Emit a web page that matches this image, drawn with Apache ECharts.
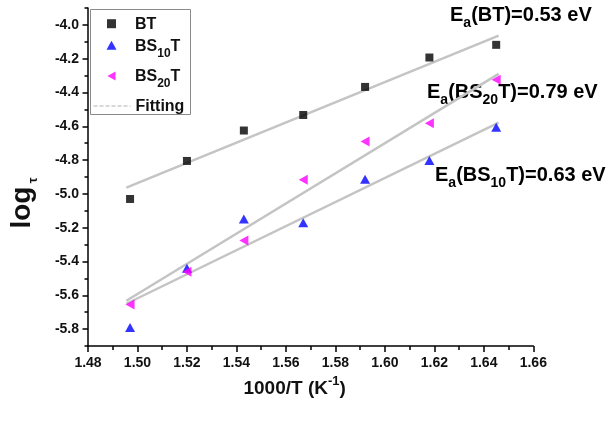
<!DOCTYPE html>
<html><head><meta charset="utf-8">
<script src="https://cdn.jsdelivr.net/npm/echarts@6/dist/echarts.min.js"></script>
<style>html,body{margin:0;padding:0;background:#fff}#c{width:616px;height:421px}</style>
</head><body><div id="c"></div>
<script>
const xVals = [1.497, 1.520, 1.543, 1.567, 1.592, 1.618, 1.645];
const btVals = [-5.03, -4.805, -4.625, -4.533, -4.367, -4.193, -4.118];
const bs10Vals = [-5.79, -5.44, -5.148, -5.17, -4.913, -4.803, -4.605];
const bs20Vals = [-5.655, -5.46, -5.276, -4.917, -4.69, -4.582, -4.325];
const fitX = [1.4955, 1.646];
const btFit = [-4.963, -4.063];
const bs10Fit = [-5.65, -4.578];
const bs20Fit = [-5.632, -4.29];
const yTickVals = [-5.8, -5.6, -5.4, -5.2, -5.0, -4.8, -4.6, -4.4, -4.2, -4.0];
const annotations = ['{m|E}{s|a}{m|(BT)=0.53 eV}', '{m|E}{s|a}{m|(BS}{s|20}{m|T)=0.79 eV}', '{m|E}{s|a}{m|(BS}{s|10}{m|T)=0.63 eV}'];
const legendLabels = {BT: '{m|BT}', 'BS10T': '{m|BS}{s|10}{m|T}', 'BS20T': '{m|BS}{s|20}{m|T}', Fitting: '{m|Fitting}'};

const FF = '"Liberation Sans", Arial, sans-serif';
const pairs = (xs, ys) => xs.map((x, i) => [x, ys[i]]);
const axisColor = '#000';
const TC = '#111';

const txt = (size, lh, pad) => ({fontFamily: FF, fontWeight: 'bold', fontSize: size, color: TC, lineHeight: lh, padding: pad, verticalAlign: 'top'});

const annRich = {
  m: txt(20, 23, [0, 0, 0, 0]),
  s: txt(14, 15, [11, 0, 0, 0])
};

const legendRich = {
  m: txt(16, 20, [3, 0, 0, 0]),
  s: txt(12, 14, [12, 0, 0, 0])
};

const legendBase = (left, top, extra) => Object.assign({
  left: left, top: top, orient: 'vertical', itemGap: 0, itemWidth: 37, itemHeight: 9,
  padding: 0, selectedMode: false,
  textStyle: {fontFamily: FF, fontSize: 16, fontWeight: 'bold', color: TC, rich: legendRich},
  formatter: n => legendLabels[n]
}, extra || {});

const chart = echarts.init(document.getElementById('c'), null, {renderer: 'canvas'});

chart.setOption({
  animation: false,
  backgroundColor: '#fff',
  grid: {left: 86.7, right: 82.7, top: 8, bottom: 75},
  xAxis: {
    type: 'value', min: 1.48, max: 1.66, interval: 0.02,
    axisLine: {lineStyle: {color: axisColor, width: 1.5}},
    axisTick: {length: 6, lineStyle: {color: axisColor, width: 1.5}},
    minorTick: {show: true, splitNumber: 2, length: 4, lineStyle: {color: axisColor, width: 1.5}},
    splitLine: {show: false},
    axisLabel: {fontFamily: FF, fontSize: 14, fontWeight: 'bold', color: TC, margin: 10, formatter: v => v.toFixed(2)},
    name: '{m|1000/T (K}{p|-1}{m|)}',
    nameLocation: 'middle', nameGap: 27,
    nameTextStyle: {
      padding: [0, 32, 0, 0],
      rich: {
        m: txt(19, 22, [4, 0, 0, 0]),
        p: txt(13, 15, [0, 0, 0, 0])
      }
    }
  },
  yAxis: [
    {
      type: 'value', min: -5.9, max: -3.9, interval: 0.1, position: 'left',
      axisLine: {show: true, lineStyle: {color: axisColor, width: 1.5}},
      axisTick: {show: true, length: 3.5, lineStyle: {color: axisColor, width: 1.5}},
      axisLabel: {show: false},
      splitLine: {show: false}
    },
    {
      type: 'value', min: -5.9, max: -3.9, position: 'left',
      axisLine: {show: false},
      axisTick: {show: true, customValues: yTickVals, length: 5.5, lineStyle: {color: axisColor, width: 1.5}},
      axisLabel: {customValues: yTickVals, fontFamily: FF, fontSize: 14, fontWeight: 'bold', color: TC, margin: 9, formatter: v => v.toFixed(1)},
      splitLine: {show: false},
      name: '{l|log} {t|τ}',
      nameLocation: 'middle', nameGap: 48, nameRotate: 90,
      nameTextStyle: {
        padding: [0, 52, 0, 0],
        rich: {
          l: txt(28, 32, [0, 0, 0, 0]),
          t: txt(13, 13, [19, 0, 0, 0])
        }
      }
    }
  ],
  legend: [
    legendBase(107, 13.7, {data: [{name: 'BT', icon: 'path://M0,0H8V8H0Z'}]}),
    legendBase(106.5, 35.3, {data: [{name: 'BS10T', icon: 'path://M5,0L10,9H0Z'}]}),
    legendBase(107.4, 66, {data: [{name: 'BS20T', icon: 'path://M0,5L9,0V10Z'}]}),
    legendBase(93, 96, {data: [{name: 'Fitting', itemStyle: {color: 'rgba(0,0,0,0)', opacity: 0}, lineStyle: {type: 'dashed', color: '#b0b0b0', width: 1}}]})
  ],
  series: [
    {name: 'Fitting', type: 'line', data: pairs(fitX, btFit), symbol: 'none', z: 1, silent: true, itemStyle: {color: '#c4c4c4'}, lineStyle: {color: '#c4c4c4', width: 2.5}},
    {name: 'Fitting', type: 'line', data: pairs(fitX, bs10Fit), symbol: 'none', z: 1, silent: true, itemStyle: {color: '#c4c4c4'}, lineStyle: {color: '#c4c4c4', width: 2.5}},
    {name: 'Fitting', type: 'line', data: pairs(fitX, bs20Fit), symbol: 'none', z: 1, silent: true, itemStyle: {color: '#c4c4c4'}, lineStyle: {color: '#c4c4c4', width: 2.5}},
    {name: 'BT', type: 'scatter', data: pairs(xVals, btVals), symbol: 'rect', symbolSize: 8, itemStyle: {color: '#000'}, z: 3},
    {name: 'BS10T', type: 'scatter', data: pairs(xVals, bs10Vals), symbol: 'triangle', symbolSize: [10, 9], itemStyle: {color: '#0000ff'}, z: 3},
    {name: 'BS20T', type: 'scatter', data: pairs(xVals, bs20Vals), symbol: 'path://M0,5 L9,0 L9,10 Z', symbolSize: [9, 10], itemStyle: {color: '#ff00ff'}, z: 4}
  ],
  graphic: [
    {type: 'rect', left: 90, top: 9, z: 5, shape: {width: 100, height: 105}, style: {fill: 'rgba(0,0,0,0)', stroke: '#8a8a8a', lineWidth: 1}},
    {type: 'text', left: 450, top: 5, style: {text: annotations[0], rich: annRich}},
    {type: 'text', left: 427, top: 82, style: {text: annotations[1], rich: annRich}},
    {type: 'text', left: 435, top: 165, style: {text: annotations[2], rich: annRich}}
  ]
});
</script></body></html>
